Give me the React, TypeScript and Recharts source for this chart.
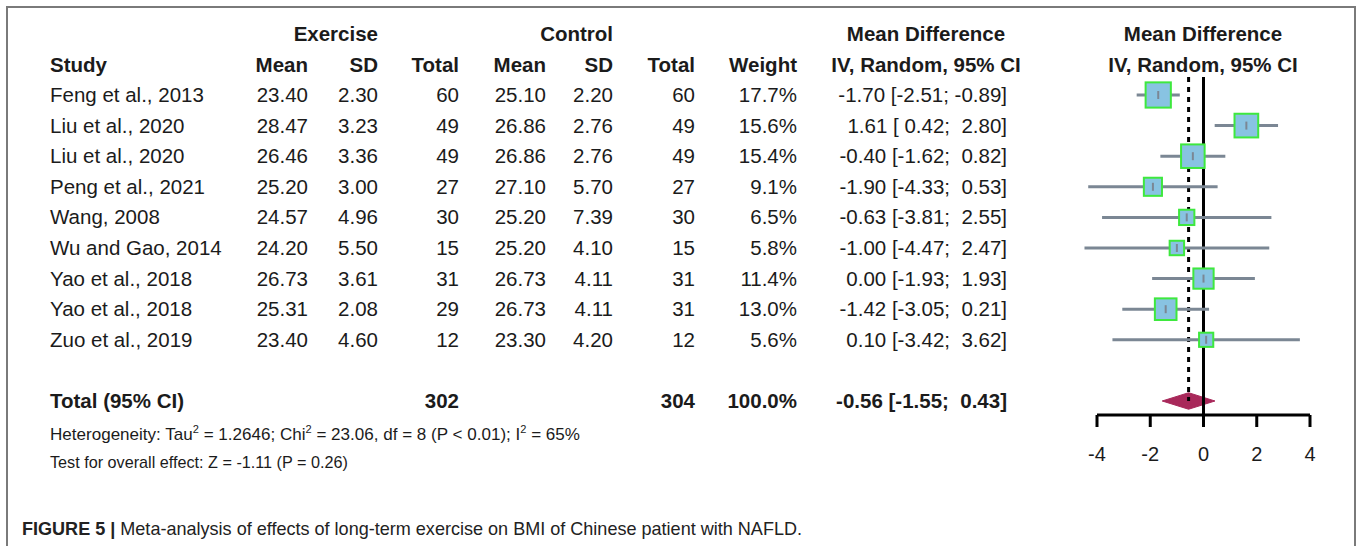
import React from "react";
import {
  ComposedChart,
  XAxis,
  YAxis,
  Scatter,
  ErrorBar,
  Area,
  ReferenceLine,
  Customized,
} from "recharts";

// study rows
const studies = [
  "Feng et al., 2013",
  "Liu et al., 2020",
  "Liu et al., 2020",
  "Peng et al., 2021",
  "Wang, 2008",
  "Wu and Gao, 2014",
  "Yao et al., 2018",
  "Yao et al., 2018",
  "Zuo et al., 2019",
];
const expMean = [23.4, 28.47, 26.46, 25.2, 24.57, 24.2, 26.73, 25.31, 23.4];
const expSD = [2.3, 3.23, 3.36, 3.0, 4.96, 5.5, 3.61, 2.08, 4.6];
const expTotal = [60, 49, 49, 27, 30, 15, 31, 29, 12];
const ctlMean = [25.1, 26.86, 26.86, 27.1, 25.2, 25.2, 26.73, 26.73, 23.3];
const ctlSD = [2.2, 2.76, 2.76, 5.7, 7.39, 4.1, 4.11, 4.11, 4.2];
const ctlTotal = [60, 49, 49, 27, 30, 15, 31, 31, 12];
const weights = [17.7, 15.6, 15.4, 9.1, 6.5, 5.8, 11.4, 13.0, 5.6];
const md = [-1.7, 1.61, -0.4, -1.9, -0.63, -1.0, 0.0, -1.42, 0.1];
const ciLow = [-2.51, 0.42, -1.62, -4.33, -3.81, -4.47, -1.93, -3.05, -3.42];
const ciHigh = [-0.89, 2.8, 0.82, 0.53, 2.55, 2.47, 1.93, 0.21, 3.62];

// pooled
const totalExp = 302;
const totalCtl = 304;
const totalWeight = 100.0;
const totalMd = -0.56;
const totalLow = -1.55;
const totalHigh = 0.43;

const xTicks = [-4, -2, 0, 2, 4];

const TOTAL_ROW = 10;
const rowTicks = [...studies.map((_, i) => i), TOTAL_ROW];

const points = studies.map((s, i) => ({
  x: md[i],
  y: i,
  w: weights[i],
  err: [md[i] - ciLow[i], ciHigh[i] - md[i]],
}));

const DIAMOND_HALF = 0.27;
const diamond = [
  { x: totalLow, range: [TOTAL_ROW, TOTAL_ROW] },
  { x: totalMd, range: [TOTAL_ROW - DIAMOND_HALF, TOTAL_ROW + DIAMOND_HALF] },
  { x: totalHigh, range: [TOTAL_ROW, TOTAL_ROW] },
];

const FONT = "'Liberation Sans', Arial, sans-serif";
const INK = "#1b1b1b";
const FS = 20.5;

const fmt = (v: number) => (v < 0 ? v.toFixed(2) : " " + v.toFixed(2));
const ciText = (m: number, lo: number, hi: number) =>
  `${m.toFixed(2)} [${fmt(lo)}; ${fmt(hi)}]`;

// column anchors
const COL = {
  study: 50,
  eMean: 308,
  eSD: 378,
  eTot: 459,
  cMean: 546,
  cSD: 613,
  cTot: 695,
  weight: 797,
  ci: 1007,
  ciMid: 926,
  plotMid: 1203,
};

const RowTick = (props: any) => {
  const { y, payload } = props;
  const i = payload.value;
  const ty = y + 7;
  const common = { fontFamily: FONT, fontSize: FS, fill: INK };
  if (i === TOTAL_ROW) {
    const b = { ...common, fontWeight: 700 };
    return (
      <g>
        <text x={COL.study} y={ty} {...b}>Total (95% CI)</text>
        <text x={COL.eTot} y={ty} textAnchor="end" {...b}>{totalExp}</text>
        <text x={COL.cTot} y={ty} textAnchor="end" {...b}>{totalCtl}</text>
        <text x={COL.weight} y={ty} textAnchor="end" {...b}>{totalWeight.toFixed(1)}%</text>
        <text x={COL.ci} y={ty} textAnchor="end" style={{ whiteSpace: "pre" }} {...b}>
          {ciText(totalMd, totalLow, totalHigh)}
        </text>
      </g>
    );
  }
  if (i < 0 || i >= studies.length) return null;
  return (
    <g>
      <text x={COL.study} y={ty} {...common}>{studies[i]}</text>
      <text x={COL.eMean} y={ty} textAnchor="end" {...common}>{expMean[i].toFixed(2)}</text>
      <text x={COL.eSD} y={ty} textAnchor="end" {...common}>{expSD[i].toFixed(2)}</text>
      <text x={COL.eTot} y={ty} textAnchor="end" {...common}>{expTotal[i]}</text>
      <text x={COL.cMean} y={ty} textAnchor="end" {...common}>{ctlMean[i].toFixed(2)}</text>
      <text x={COL.cSD} y={ty} textAnchor="end" {...common}>{ctlSD[i].toFixed(2)}</text>
      <text x={COL.cTot} y={ty} textAnchor="end" {...common}>{ctlTotal[i]}</text>
      <text x={COL.weight} y={ty} textAnchor="end" {...common}>{weights[i].toFixed(1)}%</text>
      <text x={COL.ci} y={ty} textAnchor="end" style={{ whiteSpace: "pre" }} {...common}>
        {ciText(md[i], ciLow[i], ciHigh[i])}
      </text>
    </g>
  );
};

const Square = (props: any) => {
  const { cx, cy, payload } = props;
  const s = 6 * Math.sqrt(payload.w);
  return (
    <rect
      x={cx - s / 2}
      y={cy - s / 2}
      width={s}
      height={s}
      fill="#88c3e2"
      stroke="#3ee83e"
      strokeWidth={2}
    />
  );
};

const CenterMark = (props: any) => {
  const { cx, cy } = props;
  return <line x1={cx} x2={cx} y1={cy - 4} y2={cy + 4} stroke="#7b8794" strokeWidth={2} />;
};

const Headers = () => {
  const b = { fontFamily: FONT, fontSize: FS, fill: INK, fontWeight: 700 };
  const y1 = 41;
  const y2 = 72;
  const fn = { fontFamily: FONT, fontSize: 16.2, fill: INK };
  return (
    <g>
      <text x={COL.eSD} y={y1} textAnchor="end" {...b}>Exercise</text>
      <text x={COL.cSD} y={y1} textAnchor="end" {...b}>Control</text>
      <text x={COL.ciMid} y={y1} textAnchor="middle" {...b}>Mean Difference</text>
      <text x={COL.plotMid} y={y1} textAnchor="middle" {...b}>Mean Difference</text>
      <text x={COL.study} y={y2} {...b}>Study</text>
      <text x={COL.eMean} y={y2} textAnchor="end" {...b}>Mean</text>
      <text x={COL.eSD} y={y2} textAnchor="end" {...b}>SD</text>
      <text x={COL.eTot} y={y2} textAnchor="end" {...b}>Total</text>
      <text x={COL.cMean} y={y2} textAnchor="end" {...b}>Mean</text>
      <text x={COL.cSD} y={y2} textAnchor="end" {...b}>SD</text>
      <text x={COL.cTot} y={y2} textAnchor="end" {...b}>Total</text>
      <text x={COL.weight} y={y2} textAnchor="end" {...b}>Weight</text>
      <text x={COL.ciMid} y={y2} textAnchor="middle" {...b}>IV, Random, 95% CI</text>
      <text x={COL.plotMid} y={y2} textAnchor="middle" {...b}>IV, Random, 95% CI</text>

      <text
        x={COL.study}
        y={440}
        {...fn}
        style={{ whiteSpace: "pre" }}
        textLength={530}
        lengthAdjust="spacingAndGlyphs"
      >
        Heterogeneity: Tau<tspan dy={-7} fontSize={10.5}>2</tspan>
        <tspan dy={7}> = 1.2646; Chi</tspan>
        <tspan dy={-7} fontSize={10.5}>2</tspan>
        <tspan dy={7}> = 23.06, df = 8 (P &lt; 0.01); I</tspan>
        <tspan dy={-7} fontSize={10.5}>2</tspan>
        <tspan dy={7}> = 65%</tspan>
      </text>
      <text x={COL.study} y={468} {...fn}>
        Test for overall effect: Z = -1.11 (P = 0.26)
      </text>

      <text
        x={22}
        y={535}
        fontFamily={FONT}
        fontSize={18.5}
        fill="#222"
        textLength={780}
        lengthAdjust="spacingAndGlyphs"
      >
        <tspan fontWeight={700}>FIGURE 5 |</tspan>
        <tspan> Meta-analysis of effects of long-term exercise on BMI of Chinese patient with NAFLD.</tspan>
      </text>
    </g>
  );
};

export default function App() {
  return (
    <div
      style={{
        position: "absolute",
        left: 0,
        top: 0,
        width: 1357,
        height: 546,
        overflow: "hidden",
        background: "#fff",
      }}
    >
      <div
        style={{
          position: "absolute",
          left: 6,
          top: 6,
          width: 1350,
          height: 600,
          boxSizing: "border-box",
          border: "2px solid #7a7a7a",
        }}
      />
      <div style={{ position: "absolute", left: 0, top: 0 }}>
        <ComposedChart
          width={1357}
          height={546}
          margin={{ top: 77, right: 20.375, bottom: 91, left: 0 }}
        >
          <XAxis
            type="number"
            dataKey="x"
            domain={[-5, 5]}
            ticks={xTicks}
            interval={0}
            height={40}
            axisLine={false}
            tickLine={{ stroke: "#000", strokeWidth: 3 }}
            tickSize={12}
            tickMargin={20}
            tick={{ fontFamily: FONT, fontSize: 20, fill: INK }}
          />
          <YAxis
            type="number"
            dataKey="y"
            domain={[-0.588, 10.458]}
            reversed
            ticks={rowTicks}
            interval={0}
            width={1070.375}
            axisLine={false}
            tickLine={false}
            tick={(p: any) => <RowTick {...p} />}
          />
          <ReferenceLine
            segment={[
              { x: totalMd, y: -0.588 },
              { x: totalMd, y: TOTAL_ROW },
            ]}
            stroke="#000"
            strokeWidth={3}
            strokeDasharray="5 5"
          />
          <ReferenceLine x={0} stroke="#000" strokeWidth={3} />
          <ReferenceLine
            segment={[
              { x: -4, y: 10.458 },
              { x: 4, y: 10.458 },
            ]}
            stroke="#000"
            strokeWidth={3}
          />
          <Scatter data={points} shape={<Square />} isAnimationActive={false} />
          <Scatter data={points} shape={<CenterMark />} isAnimationActive={false}>
            <ErrorBar
              dataKey="err"
              direction="x"
              width={0}
              stroke="#7b8794"
              strokeWidth={3}
              isAnimationActive={false}
            />
          </Scatter>
          <Area
            data={diamond}
            dataKey="range"
            type="linear"
            fill="#a8285a"
            stroke="#a8285a"
            fillOpacity={1}
            dot={false}
            activeDot={false}
            isAnimationActive={false}
          />
          <Customized component={<Headers />} />
        </ComposedChart>
      </div>
    </div>
  );
}
